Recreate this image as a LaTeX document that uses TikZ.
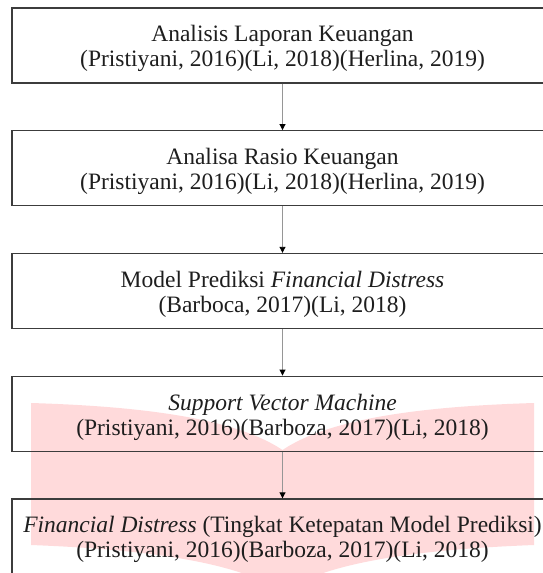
\documentclass[tikz,border=0pt]{standalone}
\usepackage{fontspec}
\setmainfont{Liberation Serif}
\usetikzlibrary{arrows.meta}
\definecolor{wmpink}{RGB}{255,218,219}
\definecolor{boxline}{RGB}{60,60,60}
\definecolor{arrline}{RGB}{150,150,150}
\definecolor{txt}{RGB}{30,30,30}
\newcommand{\topstrut}{\rule{0pt}{22.6pt}}
\tikzset{
  flowbox/.style={draw=boxline, line width=1.4pt, minimum width=541pt, minimum height=75pt,
    inner sep=0pt, align=center, text=txt,
    font=\fontsize{23.5pt}{25pt}\selectfont},
  flowarrow/.style={draw=arrline, line width=0.9pt, -{Triangle[width=6pt,length=6pt,black]}}
}
\begin{document}
\begin{tikzpicture}[x=1pt,y=1pt]
\useasboundingbox (0,0) rectangle (543,-573);
% watermark
\fill[wmpink] (31,-403) .. controls (130,-406) and (232,-416) .. (282.5,-450)
  .. controls (333,-416) and (435,-406) .. (534,-403) -- (534,-545)
  .. controls (430,-549) and (330,-560) .. (282.5,-592)
  .. controls (235,-560) and (135,-549) .. (31,-545) -- cycle;
\node[flowbox] (b1) at (282.5,-45.5) {\topstrut Analisis Laporan Keuangan\\(Pristiyani, 2016)(Li, 2018)(Herlina, 2019)};
\node[flowbox] (b2) at (282.5,-168.25) {\topstrut Analisa Rasio Keuangan\\(Pristiyani, 2016)(Li, 2018)(Herlina, 2019)};
\node[flowbox] (b3) at (282.5,-291) {\topstrut Model Prediksi \textit{Financial Distress}\\(Barboca, 2017)(Li, 2018)};
\node[flowbox] (b4) at (282.5,-413.75) {\topstrut\textit{Support Vector Machine}\\(Pristiyani, 2016)(Barboza, 2017)(Li, 2018)};
\node[flowbox] (b5) at (282.5,-536.5) {\topstrut\textit{Financial Distress} (Tingkat Ketepatan Model Prediksi)\\(Pristiyani, 2016)(Barboza, 2017)(Li, 2018)};
\draw[flowarrow] (b1.south) -- (b2.north);
\draw[flowarrow] (b2.south) -- (b3.north);
\draw[flowarrow] (b3.south) -- (b4.north);
\draw[flowarrow] (b4.south) -- (b5.north);
\end{tikzpicture}
\end{document}
